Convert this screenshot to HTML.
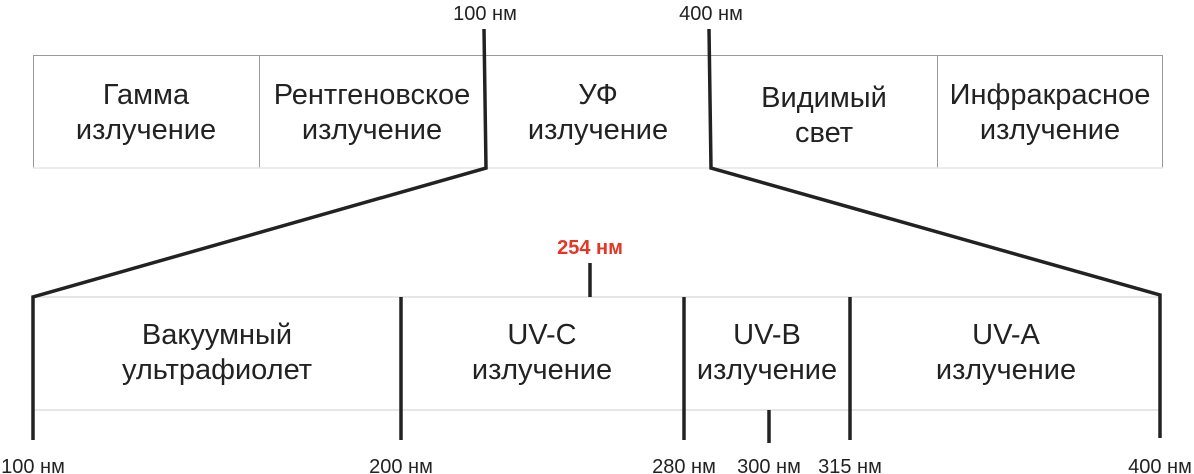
<!DOCTYPE html>
<html><head><meta charset="utf-8"><style>body{margin:0;background:#fff}svg{display:block}text{font-family:"Liberation Sans","Noto Sans CJK SC",sans-serif}</style></head>
<body>
<svg width="1194" height="474" viewBox="0 0 1194 474" xmlns="http://www.w3.org/2000/svg">
<g fill="none" stroke="#999" stroke-width="1">
<line x1="33" y1="55.5" x2="1163" y2="55.5"/>
<line x1="33.5" y1="55" x2="33.5" y2="168"/>
<line x1="1162.5" y1="55" x2="1162.5" y2="168"/>
<line x1="259.5" y1="55" x2="259.5" y2="168"/>
<line x1="937.5" y1="55" x2="937.5" y2="168"/>
</g>
<line x1="33" y1="168" x2="1163" y2="168" stroke="#e6e6e6" stroke-width="1.5"/>
<g stroke="#ddd" stroke-width="1.5">
<line x1="33" y1="297" x2="1160" y2="297"/>
<line x1="33" y1="410" x2="1160" y2="410"/>
</g>
<g fill="none" stroke="#222" stroke-width="3.5">
<polyline points="484,29 486,168 33,297 33,440"/>
<polyline points="709,29 711,168 1160,295 1160,438"/>
<line x1="401" y1="297" x2="401" y2="440"/>
<line x1="684" y1="297" x2="684" y2="440"/>
<line x1="850" y1="297" x2="850" y2="440"/>
<line x1="769" y1="410" x2="769" y2="443"/>
<line x1="590" y1="263" x2="590" y2="297"/>
</g>
<g fill="#222" font-size="29" text-anchor="middle">
<text x="146" y="104">Гамма</text><text x="146" y="139">излучение</text>
<text x="372" y="104">Рентгеновское</text><text x="372" y="139">излучение</text>
<text x="598" y="104">УФ</text><text x="598" y="139">излучение</text>
<text x="824" y="107">Видимый</text><text x="824" y="142">свет</text>
<text x="1050" y="104">Инфракрасное</text><text x="1050" y="139">излучение</text>
<text x="217" y="344">Вакуумный</text><text x="217" y="379">ультрафиолет</text>
<text x="542" y="344">UV-C</text><text x="542" y="379">излучение</text>
<text x="767" y="344">UV-B</text><text x="767" y="379">излучение</text>
<text x="1006" y="344">UV-A</text><text x="1006" y="379">излучение</text>
</g>
<g fill="#222" font-size="20" text-anchor="middle">
<text x="485" y="20">100 нм</text>
<text x="711" y="20">400 нм</text>
<text x="33" y="473">100 нм</text>
<text x="401" y="473">200 нм</text>
<text x="684" y="473">280 нм</text>
<text x="769" y="473">300 нм</text>
<text x="850" y="473">315 нм</text>
<text x="1160" y="473">400 нм</text>
</g>
<text x="590" y="254" fill="#e53525" font-size="20" font-weight="bold" text-anchor="middle">254 нм</text>
</svg>
</body></html>
